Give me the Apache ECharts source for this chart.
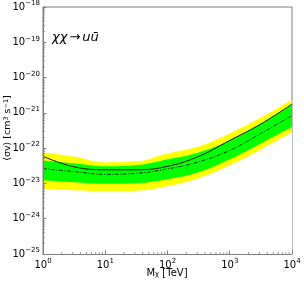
<!DOCTYPE html>
<html><head><meta charset="utf-8">
<script src="https://cdn.jsdelivr.net/npm/echarts@6/dist/echarts.min.js"></script>
<style>html,body{margin:0;padding:0;background:#fff}#c{width:304px;height:282px}</style>
</head><body><div id="c"></div>
<script>
// DM mass [TeV]
const mass = [1, 3.162, 10, 31.62, 100, 316.2, 1000, 3162, 10000];
// observed limit <sigma v> [cm^3 s^-1]
const observed = [5.83e-23, 2.95e-23, 2.43e-23, 2.43e-23, 3.05e-23, 5.83e-23, 1.65e-22, 4.83e-22, 1.77e-21];
// expected (median)
const median = [2.62e-23, 2.16e-23, 1.81e-23, 1.94e-23, 2.59e-23, 4.08e-23, 8.63e-23, 2.60e-22, 8.39e-22];
// 1 sigma band
const greenHi = [4.50e-23, 3.71e-23, 3.05e-23, 3.25e-23, 4.81e-23, 7.57e-23, 1.65e-22, 4.99e-22, 1.71e-21];
const greenLo = [1.23e-23, 1.08e-23, 9.77e-24, 1.01e-23, 1.31e-23, 2.07e-23, 4.81e-23, 1.36e-22, 3.97e-22];
// 2 sigma band
const yellowHi = [7.57e-23, 5.83e-23, 3.95e-23, 4.22e-23, 7.10e-23, 1.12e-22, 2.60e-22, 7.36e-22, 2.37e-21];
const yellowLo = [7.06e-24, 6.41e-24, 6.00e-24, 6.21e-24, 8.32e-24, 1.40e-23, 3.25e-23, 9.20e-23, 2.87e-22];

// axis ranges (decades)
const xMin = 1, xMax = 1e4;
const yExpMin = -25, yExpMax = -18;

// The y axis is a linear axis over log10(value) (ECharts' log axis rounds values this small to zero).
const lg = v => Math.log(v) / Math.LN10;
const xMinor = [], yMinor = [];
for (let e = 0; e < 4; e++) for (let m = 2; m <= 9; m++) xMinor.push(m * Math.pow(10, e));
for (let e = yExpMin; e < yExpMax; e++) for (let m = 2; m <= 9; m++) yMinor.push(e + lg(m));

const pair = arr => mass.map((m, i) => [m, lg(arr[i])]);
const FONT = 'DejaVu Sans';
const AX = '#7f7f7f';

function supLabel(e) {
  e = Math.round(e);
  return '{b|10}{s|' + (e < 0 ? '\u2212' + (-e) : String(e)) + '}';
}
const rich = {
  b: {fontSize: 10, fontFamily: FONT, color: '#000', lineHeight: 14},
  s: {fontSize: 7, fontFamily: FONT, color: '#000', verticalAlign: 'top', lineHeight: 8}
};

function area(data, color, z) {
  return {type: 'line', data: pair(data), smooth: 0.4, symbol: 'none', silent: true,
    lineStyle: {width: 0}, areaStyle: {color: color, opacity: 1, origin: 'start'}, z: z};
}

const chart = echarts.init(document.getElementById('c'), null, {renderer: 'canvas'});
chart.setOption({
  animation: false,
  grid: {left: 43, right: 12, top: 6, bottom: 28, show: true, borderColor: AX, borderWidth: 1, backgroundColor: 'transparent'},
  xAxis: {type: 'log', logBase: 10, min: xMin, max: xMax, z: 20,
    axisLine: {show: true, lineStyle: {color: AX, width: 1}},
    axisTick: {show: true, inside: true, length: 3.5, lineStyle: {color: AX}},
    splitLine: {show: false},
    axisLabel: {formatter: v => supLabel(lg(v)), rich: rich, margin: 4}},
  yAxis: {type: 'value', min: yExpMin, max: yExpMax, interval: 1, z: 20,
    axisLine: {show: true, lineStyle: {color: AX, width: 1}},
    axisTick: {show: true, inside: true, length: 3.5, lineStyle: {color: AX}},
    splitLine: {show: false},
    axisLabel: {formatter: v => supLabel(v), rich: rich, margin: 3}},
  graphic: [
    {type: 'text', left: 52, top: 31, z: 30,
      style: {rich: {
          i: {fontSize: 13, fontFamily: FONT, fontStyle: 'italic', fill: '#000'},
          a: {fontSize: 13, fontFamily: FONT, fill: '#000', padding: [0, 2, 0, 2]}},
        text: '{i|\u03c7\u03c7}{a|\u2192}{i|u\u016b}'}},
    {type: 'text', x: 8, y: 128, rotation: Math.PI / 2, z: 30,
      style: {text: '\u27e8\u03c3v\u27e9 [cm{s|3} s{s|\u22121}]', align: 'center', verticalAlign: 'middle',
        fontSize: 9.5, fontFamily: FONT, fill: '#000',
        rich: {s: {fontSize: 6.5, fontFamily: FONT, verticalAlign: 'top', lineHeight: 7}}}},
    {type: 'text', x: 167, y: 273, z: 30,
      style: {text: 'M{s|\u03c7} [TeV]', align: 'center', verticalAlign: 'middle',
        fontSize: 10, fontFamily: FONT, fill: '#000',
        rich: {s: {fontSize: 7, fontFamily: FONT, verticalAlign: 'bottom', lineHeight: 10, padding: [6, 0, 0, 0]}}}}
  ],
  series: [
    area(yellowHi, '#ffff00', 1),
    area(greenHi, '#00ff00', 2),
    area(greenLo, '#ffff00', 3),
    area(yellowLo, '#ffffff', 4),
    {type: 'line', data: pair(median), smooth: 0.4, symbol: 'none', z: 6,
      lineStyle: {color: '#000', width: 0.8, type: [4, 1.5, 1, 1.5]}},
    {type: 'line', data: pair(observed), smooth: 0.4, symbol: 'none', z: 7,
      lineStyle: {color: '#111', width: 1}},
    {type: 'custom', z: 25, silent: true, data: xMinor.map(v => [v, yExpMin]),
      renderItem: (params, api) => {
        const p = api.coord([api.value(0), yExpMin]);
        return {type: 'line', shape: {x1: p[0], y1: p[1], x2: p[0], y2: p[1] - 2}, style: {stroke: AX, lineWidth: 0.8}};
      }},
    {type: 'custom', z: 25, silent: true, data: yMinor.map(v => [xMin, v]),
      renderItem: (params, api) => {
        const p = api.coord([xMin, api.value(1)]);
        return {type: 'line', shape: {x1: p[0], y1: p[1], x2: p[0] + 2, y2: p[1]}, style: {stroke: AX, lineWidth: 0.8}};
      }}
  ]
});
</script></body></html>
